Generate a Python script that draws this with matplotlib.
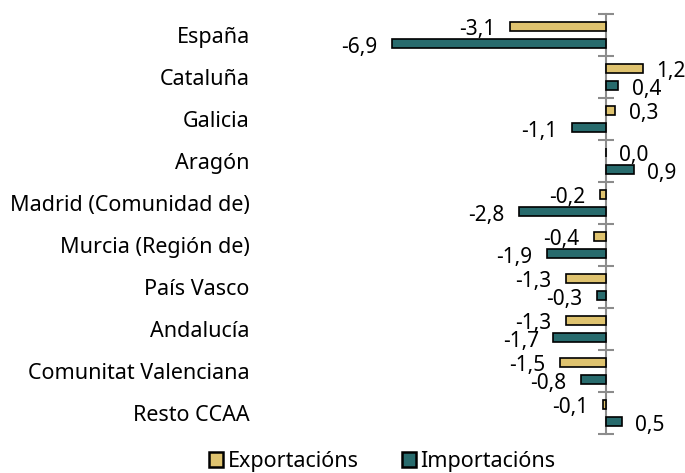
import numpy as np
import matplotlib.pyplot as plt

plt.rcParams['font.family'] = ['Noto Sans', 'DejaVu Sans']

regions = ["España", "Cataluña", "Galicia", "Aragón", "Madrid (Comunidad de)",
           "Murcia (Región de)", "País Vasco", "Andalucía",
           "Comunitat Valenciana", "Resto CCAA"]
exports = [-3.1, 1.2, 0.3, 0.0, -0.2, -0.4, -1.3, -1.3, -1.5, -0.1]
imports = [-6.9, 0.4, -1.1, 0.9, -2.8, -1.9, -0.3, -1.7, -0.8, 0.5]

exp_color = "#DFC36F"
imp_color = "#286B6D"
axis_gray = "#8C8C8C"


def fmt(v):
    return f"{v:.1f}".replace(".", ",")


def main():
    fig = plt.figure(figsize=(6.85, 4.73), dpi=100)
    ax = fig.add_axes([0.3766, 0.0825, 0.5986, 0.8879])

    y = np.arange(len(regions))
    h = 0.21
    off = 0.205
    ax.barh(y - off, exports, height=h, color=exp_color, edgecolor="black", linewidth=1.2,
            label="Exportacións")
    ax.barh(y + off, imports, height=h, color=imp_color, edgecolor="black", linewidth=1.2,
            label="Importacións")

    # value labels at bar ends
    for yy, vals in ((y - off, exports), (y + off, imports)):
        for yi, v in zip(yy, vals):
            if v >= 0:
                ax.annotate(fmt(v), (v, yi), xytext=(9.5, -2.5), textcoords="offset points",
                            ha="left", va="center", fontsize=15, clip_on=False)
            else:
                ax.annotate(fmt(v), (v, yi), xytext=(-10.5, -2.5), textcoords="offset points",
                            ha="right", va="center", fontsize=15, clip_on=False)

    ax.set_xlim(-11.23, 2.0)
    ax.set_ylim(len(regions) - 0.5, -0.5)
    ax.set_yticks(y)
    ax.set_yticklabels(regions, fontsize=15.5)
    ax.tick_params(axis="y", length=0, pad=6)
    ax.set_xticks([])
    for s in ax.spines.values():
        s.set_visible(False)

    # vertical zero axis with category separator ticks
    zero_frac = -ax.get_xlim()[0] / (ax.get_xlim()[1] - ax.get_xlim()[0])
    sec = ax.secondary_yaxis(zero_frac)
    sec.set_yticks(np.arange(len(regions) + 1) - 0.5)
    sec.tick_params(direction="inout", length=12, width=1.5, color=axis_gray,
                    labelleft=False, labelright=False)
    for s in sec.spines.values():
        s.set_color(axis_gray)
        s.set_linewidth(1.5)

    leg = fig.legend(loc="center", bbox_to_anchor=(0.558, 0.024), ncol=2, frameon=False,
                     fontsize=15.5, handlelength=0.65, handleheight=0.65, handletextpad=0.2,
                     columnspacing=2.0, borderaxespad=0)
    for p in leg.get_patches():
        p.set_linewidth(1.8)

    fig.savefig("out.png", dpi=100)


if __name__ == "__main__":
    main()
